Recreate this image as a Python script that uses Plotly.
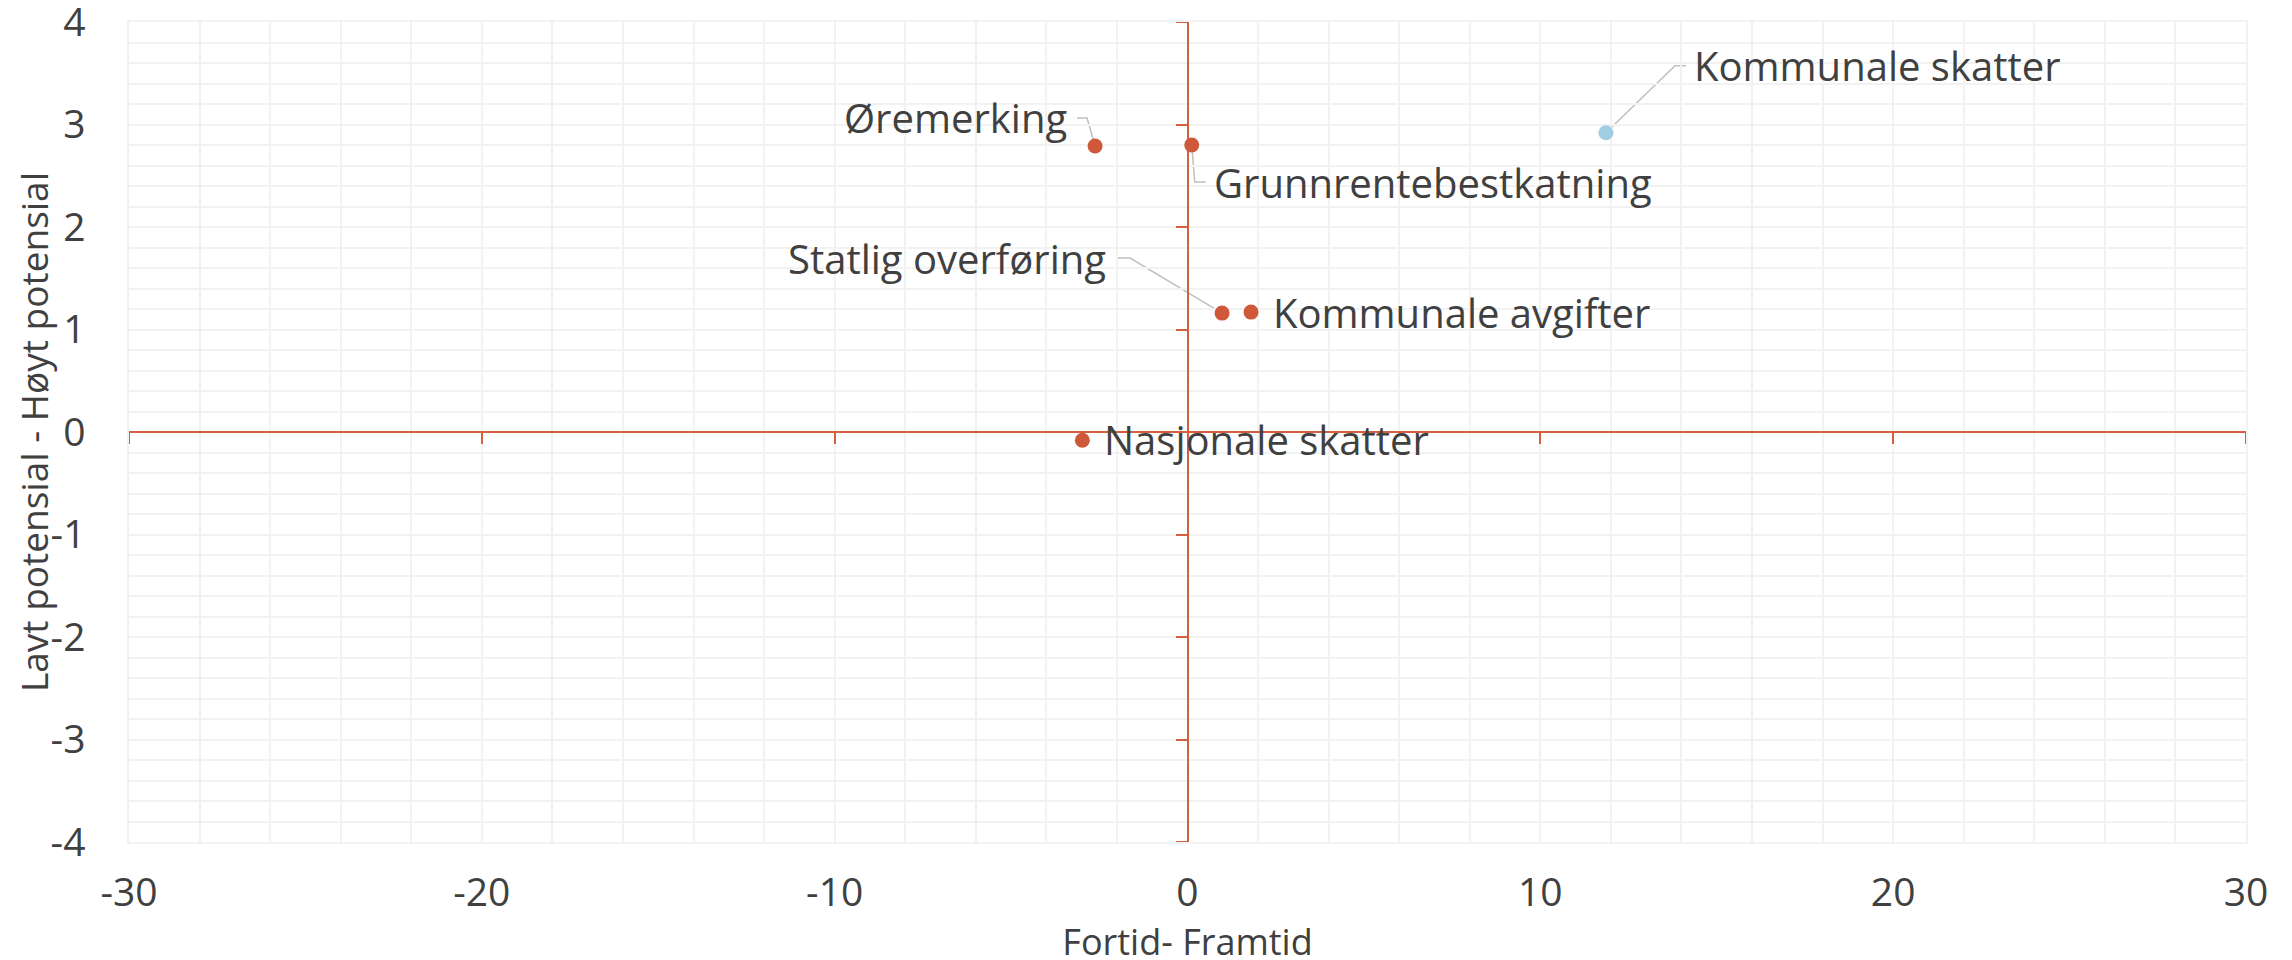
import plotly.graph_objects as go

names = ["Øremerking", "Grunnrentebestkatning", "Statlig overføring",
         "Kommunale avgifter", "Nasjonale skatter", "Kommunale skatter"]
x_vals = [-2.62, 0.12, 0.98, 1.80, -2.98, 11.86]
y_vals = [2.79, 2.80, 1.16, 1.17, -0.08, 2.92]
colors = ["#D0583A", "#D0583A", "#D0583A", "#D0583A", "#D0583A", "#9FCDE3"]

x_ticks = [-30, -20, -10, 0, 10, 20, 30]
y_ticks = [-4, -3, -2, -1, 0, 1, 2, 3, 4]

# label placement styling (pixel offsets from the marker)
label_style = [
    dict(xshift=-26, yshift=29, xanchor="right", leader=[(-8, 28), (-18, 28)]),
    dict(xshift=20, yshift=-37, xanchor="left", leader=[(3, -37), (14, -37)]),
    dict(xshift=-114, yshift=55, xanchor="right", leader=[(-92, 55), (-106, 55)]),
    dict(xshift=20, yshift=0, xanchor="left", leader=None),
    dict(xshift=20, yshift=1, xanchor="left", leader=None),
    dict(xshift=86, yshift=67, xanchor="left", leader=[(69, 67), (80, 67)]),
]

FONT = "Open Sans"
TXT = "#404040"
AXC = "#D4603F"
GRID = "#F2F2F2"

fig = go.Figure()

# invisible trace on the main axes (keeps grid subplot active)
fig.add_trace(go.Scatter(x=x_vals, y=y_vals, mode="markers",
                         marker=dict(opacity=0), hoverinfo="skip",
                         showlegend=False, xaxis="x", yaxis="y"))
# visible markers on the zero-crossing axes
fig.add_trace(go.Scatter(x=x_vals, y=y_vals, mode="markers", text=names,
                         marker=dict(size=15, color=colors),
                         showlegend=False, xaxis="x2", yaxis="y2",
                         hovertemplate="%{text}<br>%{x}, %{y}<extra></extra>"))

annotations = []
shapes = []
for n, xv, yv, st in zip(names, x_vals, y_vals, label_style):
    annotations.append(dict(x=xv, y=yv, xref="x", yref="y", text=n,
                            showarrow=False, xanchor=st["xanchor"], yanchor="middle",
                            xshift=st["xshift"], yshift=st["yshift"],
                            font=dict(family=FONT, size=40, color=TXT)))
    if st["leader"]:
        (ex, ey), (fx, fy) = st["leader"]
        shapes.append(dict(type="path", xref="x", yref="y",
                           xsizemode="pixel", ysizemode="pixel",
                           xanchor=xv, yanchor=yv,
                           path=f"M 0 0 L {ex} {ey} L {fx} {fy}",
                           line=dict(color="#BFBFBF", width=1.5), layer="below"))

fig.update_layout(
    width=2284, height=960,
    margin=dict(l=121, r=46, t=14, b=126),
    paper_bgcolor="white", plot_bgcolor="white",
    font=dict(family=FONT, color=TXT),
    annotations=annotations, shapes=shapes,
    xaxis=dict(range=[-30, 30], tickvals=x_ticks, ticktext=[str(v) for v in x_ticks],
               showgrid=True, gridcolor=GRID, gridwidth=1.5,
               minor=dict(dtick=2, showgrid=True, gridcolor=GRID, gridwidth=1.5),
               zeroline=False, showline=True, linecolor=GRID, linewidth=1.5, mirror=True,
               ticks="", ticklabelstandoff=15, ticklabeloverflow="allow",
               tickfont=dict(family=FONT, size=39, color=TXT),
               title=dict(text="Fortid- Framtid", standoff=4,
                          font=dict(family=FONT, size=36, color=TXT)),
               automargin=False),
    yaxis=dict(range=[-4, 4], tickvals=y_ticks, ticktext=[str(v) for v in y_ticks],
               showgrid=True, gridcolor=GRID, gridwidth=1.5,
               minor=dict(dtick=0.2, showgrid=True, gridcolor=GRID, gridwidth=1.5),
               zeroline=False, showline=True, linecolor=GRID, linewidth=1.5, mirror=True,
               ticks="", ticklabelstandoff=34, ticklabeloverflow="allow",
               tickfont=dict(family=FONT, size=39, color=TXT),
               title=dict(text="Lavt potensial - Høyt potensial", standoff=18,
                          font=dict(family=FONT, size=37, color=TXT)),
               automargin=False),
    xaxis2=dict(range=[-30, 30], overlaying="x", anchor="free", position=0.5,
                tickvals=x_ticks, showticklabels=False, ticks="outside",
                ticklen=11, tickwidth=2, tickcolor=AXC,
                showline=True, linecolor=AXC, linewidth=2,
                showgrid=False, zeroline=False, layer="below traces"),
    yaxis2=dict(range=[-4, 4], overlaying="y", anchor="free", position=0.5, side="left",
                tickvals=y_ticks, showticklabels=False, ticks="outside",
                ticklen=11, tickwidth=2, tickcolor=AXC,
                showline=True, linecolor=AXC, linewidth=2,
                showgrid=False, zeroline=False, layer="below traces"),
)

fig.write_html("out.html")
